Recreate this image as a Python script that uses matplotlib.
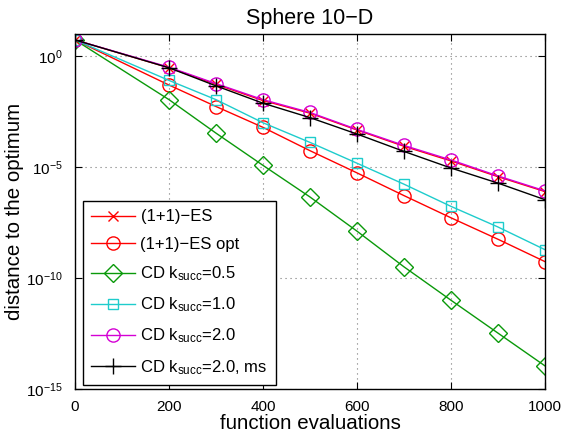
import matplotlib
matplotlib.use("Agg")
import matplotlib.pyplot as plt
from matplotlib.ticker import NullLocator, LogFormatterSciNotation

plt.rcParams['font.family'] = ['Liberation Sans', 'DejaVu Sans']
plt.rcParams['mathtext.fontset'] = 'custom'
plt.rcParams['mathtext.rm'] = 'Liberation Sans'
plt.rcParams['mathtext.it'] = 'Liberation Sans:italic'
plt.rcParams['mathtext.default'] = 'regular'

# evaluations at which the distances were recorded
evals = [0, 200, 300, 400, 500, 600, 700, 800, 900, 1000]

es = [5.4, 3.0e-1, 5.4e-2, 1.0e-2, 2.7e-3, 4.7e-4, 8.7e-5, 1.9e-5, 3.7e-6, 7.9e-7]
es_opt = [5.4, 5.0e-2, 5.4e-3, 6.2e-4, 5.5e-5, 5.5e-6, 5.2e-7, 5.2e-8, 5.6e-9, 5.5e-10]
cd_05 = [5.4, 1.1e-2, 3.4e-4, 1.2e-5, 4.5e-7, 1.3e-8, 3.2e-10, 1.0e-11, 3.3e-13, 1.1e-14]
cd_10 = [5.4, 8.1e-2, 1.1e-2, 1.0e-3, 1.3e-4, 1.5e-5, 1.7e-6, 1.7e-7, 2.0e-8, 1.9e-9]
cd_20 = [5.4, 3.2e-1, 5.8e-2, 1.1e-2, 2.9e-3, 5.0e-4, 9.5e-5, 2.1e-5, 4.0e-6, 8.5e-7]
cd_20_ms = [5.4, 3.0e-1, 4.6e-2, 7.6e-3, 1.7e-3, 3.1e-4, 5.1e-5, 9.1e-6, 1.9e-6, 3.4e-7]

labels = ['(1+1)\u2212ES', '(1+1)\u2212ES opt',
          r'CD k$_{succ}$=0.5', r'CD k$_{succ}$=1.0',
          r'CD k$_{succ}$=2.0', r'CD k$_{succ}$=2.0, ms']

fig = plt.figure(figsize=(5.63, 4.43), dpi=100)
ax = fig.add_axes([75 / 563, 1 - 389 / 443, 470 / 563, 355 / 443])

ax.semilogy(evals, es, color='#ff0000', marker='x', ms=7.5, mew=1, lw=1, label=labels[0])
ax.semilogy(evals, es_opt, color='#ff0000', marker='o', ms=9.5, mfc='none', mew=1, lw=1, label=labels[1])
ax.semilogy(evals, cd_05, color='#0a990a', marker='D', ms=9.5, mfc='none', mew=1, lw=1, label=labels[2])
ax.semilogy(evals, cd_10, color='#1ecccc', marker='s', ms=7.5, mfc='none', mew=1, lw=1, label=labels[3])
ax.semilogy(evals, cd_20, color='#d400d4', marker='o', ms=9.5, mfc='none', mew=1, lw=1, label=labels[4])
ax.semilogy(evals, cd_20_ms, color='black', marker='+', ms=12, mew=1, lw=1, label=labels[5])

ax.set_xlim(0, 1000)
ax.set_ylim(1e-15, 1e1)
ax.set_xticks([0, 200, 400, 600, 800, 1000])
ax.set_yticks([1e-15, 1e-10, 1e-5, 1e0])
ax.yaxis.set_major_formatter(LogFormatterSciNotation())
ax.yaxis.set_minor_locator(NullLocator())
ax.tick_params(direction='in', top=True, right=True, length=5, labelsize=11, width=0.8)
ax.tick_params(axis='x', pad=8)
ax.tick_params(axis='y', pad=9)
ax.grid(True, linestyle=(0, (1, 3.5)), color='#777777', linewidth=0.8)
for s in ax.spines.values():
    s.set_linewidth(1)

ax.set_title('Sphere 10\u2212D', fontsize=15.5, pad=7)
ax.set_xlabel('function evaluations', fontsize=14.8, labelpad=0)
ax.set_ylabel('distance to the optimum', fontsize=14.8, labelpad=1)

leg = ax.legend(loc='lower left', bbox_to_anchor=(8 / 470, 4 / 355), borderaxespad=0,
                fontsize=12, fancybox=False, framealpha=1, edgecolor='black',
                handlelength=2.6, handletextpad=0.35, labelspacing=0.75, borderpad=0.5)
leg.get_frame().set_linewidth(1)

fig.savefig('out.png', dpi=100)
